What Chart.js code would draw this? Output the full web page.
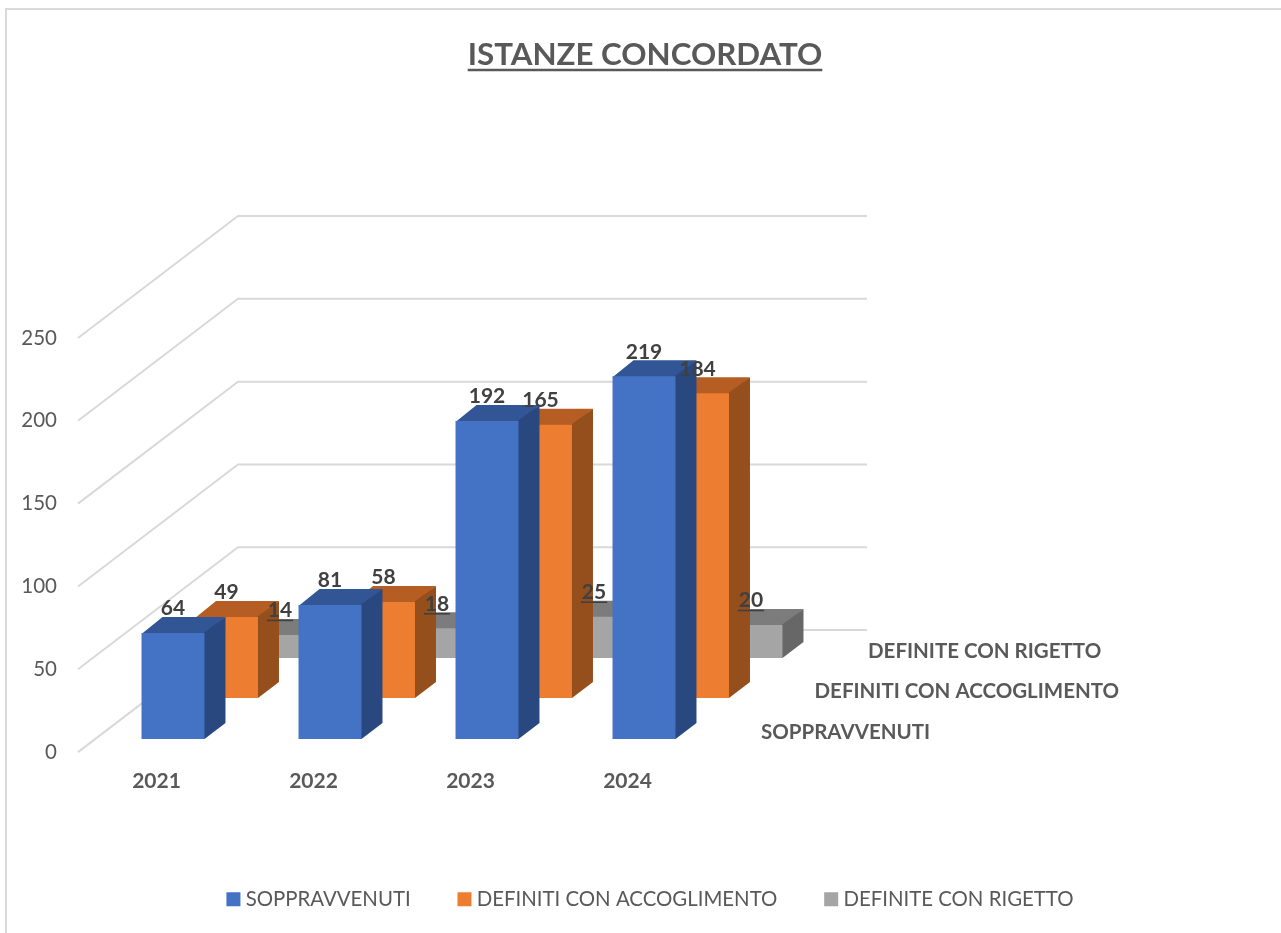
<!DOCTYPE html>
<html><head><meta charset="utf-8">
<style>html,body{margin:0;padding:0;background:#fff}#w{width:1281px;height:933px}canvas{display:block}</style>
<script src="https://cdn.jsdelivr.net/npm/chart.js@4/dist/chart.umd.min.js"></script>
</head><body><div id="w"><canvas id="c" width="1281" height="933"></canvas></div>
<script>
const titleText = "ISTANZE CONCORDATO";
const categories = ["2021", "2022", "2023", "2024"];
const yTicks = [0, 50, 100, 150, 200, 250];
const sopravvenuti = [64, 81, 192, 219];
const accoglimento = [49, 58, 165, 184];
const rigetto = [14, 18, 25, 20];
const seriesNames = ["SOPPRAVVENUTI", "DEFINITI CON ACCOGLIMENTO", "DEFINITE CON RIGETTO"];
const frontColors = ["#4472C4", "#ED7D31", "#A5A5A5"];
const topColors = ["#325595", "#B55D22", "#7C7C7C"];
const sideColors = ["#2A4880", "#954F1C", "#676767"];

const FONT = "Lato";
const DEPTH = { x: 160, y: -122 };           // wall offset from the floor's front edge
const ROW = [{ dx: 16.5, dy: -13 }, { dx: 70, dy: -54 }, { dx: 123.5, dy: -94 }]; // row offsets
const BAR_DEPTH = { x: 21, y: -16 };

const threeD = {
  id: "threeD",
  afterLayout(chart) {
    chart.titleBlock.right += 9;
    chart.legend.left += 24;
  },
  beforeDraw(chart) {
    const c = chart.ctx; c.save();
    c.strokeStyle = "#D9D9D9"; c.lineWidth = 2;
    c.beginPath(); c.moveTo(6, 933); c.lineTo(6, 9); c.lineTo(1281, 9); c.stroke();
    c.restore();
  },
  beforeDatasetsDraw(chart) {
    const c = chart.ctx, y = chart.scales.y, a = chart.chartArea;
    c.save(); c.strokeStyle = "#D9D9D9"; c.lineWidth = 2;
    y.ticks.forEach(t => {
      const p = y.getPixelForValue(t.value);
      c.beginPath(); c.moveTo(a.left, p);
      c.lineTo(a.left + DEPTH.x, p + DEPTH.y);
      c.lineTo(a.right + DEPTH.x + 1, p + DEPTH.y); c.stroke();
    });
    c.restore();
  },
  beforeDatasetDraw(chart, args) {
    const c = chart.ctx, i = args.index, r = ROW[i];
    c.save(); c.translate(r.dx, r.dy);
    args.meta.data.forEach(el => {
      const { x, y, base, width } = el.getProps(["x", "y", "base", "width"], true);
      const L = x - width / 2, R = x + width / 2, dx = BAR_DEPTH.x, dy = BAR_DEPTH.y;
      c.fillStyle = topColors[i];
      c.beginPath(); c.moveTo(L, y + 1); c.lineTo(L + dx, y + dy); c.lineTo(R + dx, y + dy); c.lineTo(R, y + 1); c.closePath(); c.fill();
      c.fillStyle = sideColors[i];
      c.beginPath(); c.moveTo(R - 1, y); c.lineTo(R + dx, y + dy); c.lineTo(R + dx, base + dy); c.lineTo(R, base); c.lineTo(R - 1, base); c.closePath(); c.fill();
    });
  },
  afterDatasetDraw(chart) { chart.ctx.restore(); },
  afterDatasetsDraw(chart) {
    const c = chart.ctx, a = chart.chartArea, y0 = chart.scales.y.getPixelForValue(0);
    c.save(); c.textAlign = "center"; c.textBaseline = "middle";
    c.fillStyle = "#404040"; c.strokeStyle = "#404040";
    c.font = `bold 21px ${FONT}`;
    [2, 1, 0].forEach(i => {
      const meta = chart.getDatasetMeta(i), r = ROW[i];
      meta.data.forEach((el, j) => {
        const t = String(chart.data.datasets[i].data[j]);
        const x = el.x + r.dx, y = el.y + r.dy - 24.5;
        c.fillText(t, x, y);
        if (i === 2) {
          const w = c.measureText(t).width;
          c.lineWidth = 1.6; c.beginPath(); c.moveTo(x - w / 2 - 1, y + 10); c.lineTo(x + w / 2 + 1, y + 10); c.stroke();
        }
      });
    });
    // depth-axis labels
    c.font = `bold 20.5px ${FONT}`;
    c.textAlign = "left"; c.fillStyle = "#595959";
    chart.data.datasets.forEach((ds, i) => {
      c.fillText(ds.label, a.right + ROW[i].dx + 38.5, y0 + ROW[i].dy - 7);
    });
    // title underline
    const tb = chart.titleBlock, cx = (tb.left + tb.right) / 2;
    c.font = `bold 31.3px ${FONT}`;
    const tw = c.measureText(titleText).width;
    c.strokeStyle = "#595959"; c.lineWidth = 2.4;
    c.beginPath(); c.moveTo(cx - tw / 2, 70); c.lineTo(cx + tw / 2, 70); c.stroke();
    c.restore();
  }
};

const mk = (i, data) => ({
  label: seriesNames[i], data, backgroundColor: frontColors[i],
  borderWidth: 0, clip: false, barPercentage: 0.401, categoryPercentage: 1, grouped: false
});

new Chart(document.getElementById("c"), {
  type: "bar",
  data: { labels: categories, datasets: [mk(0, sopravvenuti), mk(1, accoglimento), mk(2, rigetto)] },
  plugins: [threeD],
  options: {
    responsive: false, animation: false,
    layout: { padding: { left: 0, top: 0, right: 0, bottom: 13.5 } },
    plugins: {
      tooltip: { enabled: false },
      title: {
        display: true, text: titleText, color: "#595959",
        font: { family: FONT, size: 31.3, weight: "bold", lineHeight: 1.2 },
        padding: { top: 36, bottom: 264.44 }
      },
      legend: {
        position: "bottom",
        labels: {
          color: "#595959", padding: 51.8,
          font: { family: FONT, size: 20.4 },
          boxWidth: 4, boxHeight: 4,
          generateLabels(chart) {
            return chart.data.datasets.map((ds, i) => ({
              text: ds.label, fillStyle: frontColors[i], strokeStyle: frontColors[i],
              lineWidth: 10, datasetIndex: i, hidden: false, fontColor: "#595959"
            }));
          }
        }
      }
    },
    scales: {
      x: {
        grid: { display: false, drawTicks: false }, border: { display: false },
        ticks: { color: "#595959", padding: 17, font: { family: FONT, size: 21, weight: "bold" } },
        afterFit(s) { s.height = 85.2; }
      },
      y: {
        min: 0, max: 250,
        grid: { display: false, drawTicks: false }, border: { display: false },
        afterBuildTicks(s) { s.ticks = yTicks.map(v => ({ value: v })); },
        ticks: { color: "#595959", padding: 21, font: { family: FONT, size: 20.5 } },
        afterFit(s) { s.width = 78; }
      },
      yr: {
        position: "right", display: true,
        grid: { display: false, drawTicks: false }, border: { display: false },
        ticks: { display: false },
        afterFit(s) { s.width = 575; }
      }
    }
  }
});
</script></body></html>
